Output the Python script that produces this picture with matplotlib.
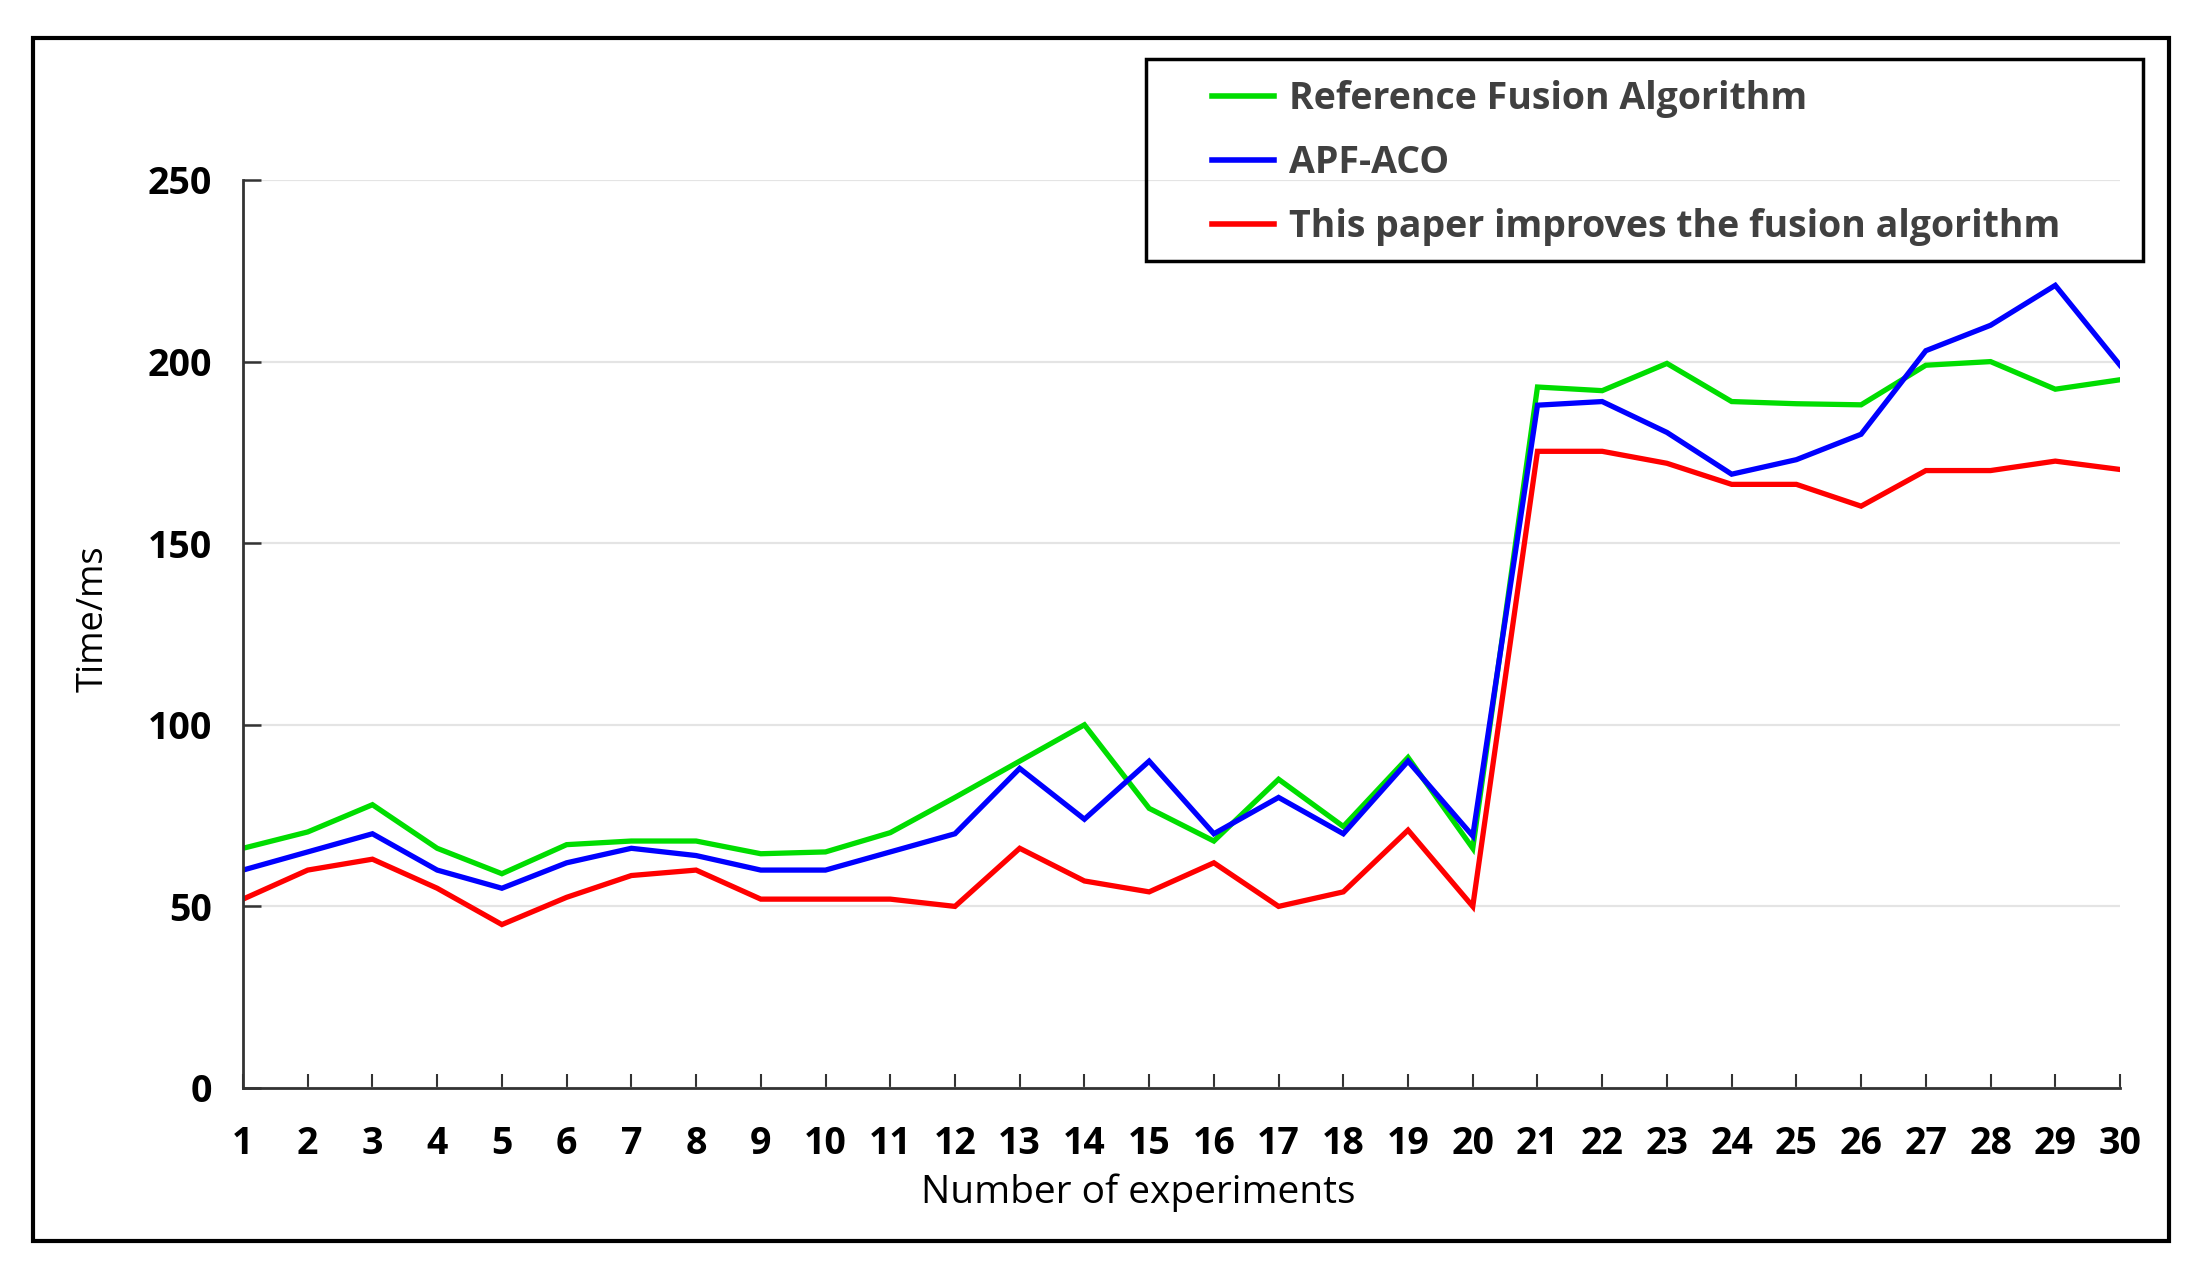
import matplotlib
matplotlib.use("Agg")
import matplotlib.pyplot as plt
from matplotlib.patches import Rectangle

plt.rcParams['font.family'] = ['Open Sans', 'DejaVu Sans']

# datos
experimentos = list(range(1, 31))
fusion_ref = [66, 70.5, 78, 66, 59, 67, 68, 68, 64.5, 65, 70.3, 80,
              90, 100, 77, 68, 85, 72, 91, 66,
              193, 192, 199.5, 189, 188.4, 188.1, 199, 200, 192.4, 195]
apf_aco = [60, 65, 70, 60, 55, 62, 66, 64, 60, 60, 65, 70,
           88, 74, 90, 70, 80, 70, 90, 69.4,
           188, 189, 180.5, 169, 173, 180, 203, 210, 221, 199]
mejorado = [52, 60, 63, 55, 45, 52.5, 58.5, 60, 52, 52, 52, 50,
            66, 57, 54, 62, 50, 54, 71, 50,
            175.3, 175.3, 172, 166.2, 166.2, 160.2, 170, 170, 172.6, 170.3]
nombres = ["Reference Fusion Algorithm", "APF-ACO",
           "This paper improves the fusion algorithm"]
colores = ["#00dd00", "#0000ff", "#ff0000"]
yticks = [0, 50, 100, 150, 200, 250]

W, H = 2204, 1284
fig = plt.figure(figsize=(W / 100, H / 100), dpi=100)
ax = fig.add_axes([243 / W, 1 - 1088 / H, (2120 - 243) / W, (1088 - 180) / H])

series = [fusion_ref, apf_aco, mejorado]
lineas = []
for vals, nombre, c in zip(series, nombres, colores):
    l, = ax.plot(experimentos, vals, color=c, lw=3.8, label=nombre,
                 solid_joinstyle='miter')
    lineas.append(l)

ax.set_xlim(1, 30)
ax.set_ylim(0, 250)
ax.set_xticks(experimentos)
ax.set_yticks(yticks)
ax.grid(axis='y', color='#e4e4e4', lw=1.6)
ax.set_axisbelow(True)
for s in ['top', 'right']:
    ax.spines[s].set_visible(False)
for s in ['left', 'bottom']:
    ax.spines[s].set_color('#333333')
    ax.spines[s].set_linewidth(2)
    ax.spines[s].set_clip_on(False)

ax.tick_params(axis='x', direction='in', length=10, width=1.5, color='#333333', pad=27)
ax.tick_params(axis='y', direction='in', length=13, width=1.8, color='#333333', pad=22)
for lab in ax.get_xticklabels() + ax.get_yticklabels():
    lab.set_fontsize(27)
    lab.set_fontweight('bold')
    lab.set_color('black')

ax.set_xlabel("Number of experiments", fontsize=28)
ax.set_ylabel("Time/ms", fontsize=26)
ax.xaxis.set_label_coords(0.477, -0.094)
ax.yaxis.set_label_coords(-0.070, 0.517)

# leyenda sin marco, el marco se dibuja aparte
leg = fig.legend(handles=lineas, loc='upper left',
                 bbox_to_anchor=(1212 / W, 1 - 80 / H), frameon=False,
                 handlelength=1.65, handletextpad=0.4,
                 labelspacing=0.70, borderpad=0, borderaxespad=0,
                 prop={'weight': 'bold', 'size': 27})
for t in leg.get_texts():
    t.set_color('#404040')
for h in leg.legend_handles:
    h.set_linewidth(4)

fig.patches.append(Rectangle((1146 / W, 1 - 261 / H), (2143 - 1146) / W, (261 - 59) / H,
                             transform=fig.transFigure, fill=False, ec='black', lw=2.5))
fig.patches.append(Rectangle((33 / W, 1 - 1241 / H), (2169 - 33) / W, (1241 - 38) / H,
                             transform=fig.transFigure, fill=False, ec='black', lw=3))

fig.savefig("out.png", dpi=100, facecolor='white')
